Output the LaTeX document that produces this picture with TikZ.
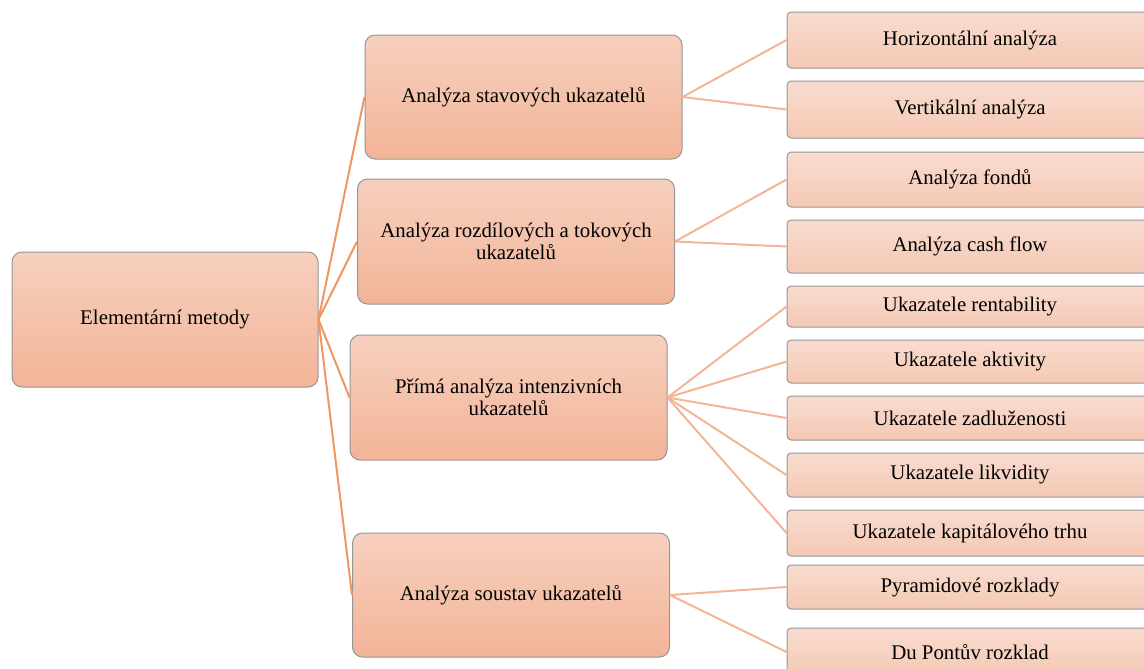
\documentclass[tikz,border=0pt]{standalone}
\usepackage{fontspec}
\setmainfont{Liberation Serif}
\usetikzlibrary{positioning}
\definecolor{linkdark}{RGB}{240,150,96}
\definecolor{linklight}{RGB}{244,180,150}
\definecolor{midtop}{RGB}{246,208,190}
\definecolor{midbot}{RGB}{243,180,152}
\definecolor{leaftop}{RGB}{248,220,207}
\definecolor{leafbot}{RGB}{245,200,180}
\definecolor{boxline}{RGB}{150,150,150}
\tikzset{
% big boxes on the left and in the middle
mainbox/.style={draw=boxline, line width=0.6pt, rounded corners=6pt,
  top color=midtop, bottom color=midbot, align=center, inner sep=0pt,
  minimum width=190.2pt, minimum height=74.4pt,
  font=\fontsize{12.5}{13.6}\selectfont},
% thin boxes on the right
leafbox/.style={draw=boxline, line width=0.6pt, rounded corners=2.5pt,
  top color=leaftop, bottom color=leafbot, align=center, inner sep=0pt,
  minimum width=219.6pt, font=\fontsize{12.5}{13.6}\selectfont},
rootlink/.style={draw=linkdark, line width=1.2pt},
leaflink/.style={draw=linklight, line width=1.2pt},
}

\begin{document}
\begin{tikzpicture}[x=0.6pt,y=-0.6pt]
   \useasboundingbox (0,0) rectangle (1144,668);
   \clip (0,0) rectangle (1144,668);
   \node[mainbox, minimum width=183.6pt, minimum height=81pt] (em) at (165,319.5) {Elementární metody};
   \node[mainbox] (stav) at (523.5,97) {Analýza stavových ukazatelů};
   \node[mainbox, minimum height=75pt] (rozd) at (516,241.5) {Analýza rozdílových a tokových\\ukazatelů};
   \node[mainbox, minimum height=75pt] (prim) at (508.5,397.5) {Přímá analýza intenzivních\\ukazatelů};
   \node[mainbox] (sous) at (511,595) {Analýza soustav ukazatelů};
   % leaves
   \node[leafbox, minimum height=33.6pt] (hor) at (970,40) {Horizontální analýza};
   \node[leafbox, minimum height=34.2pt] (ver) at (970,109.5) {Vertikální analýza};
   \node[leafbox, minimum height=33pt] (fon) at (970,179.5) {Analýza fondů};
   \node[leafbox, minimum height=31.8pt] (cf) at (970,246.5) {Analýza cash flow};
   \node[leafbox, minimum height=24.6pt] (ren) at (970,306.5) {Ukazatele rentability};
   \node[leafbox, minimum height=25.8pt] (akt) at (970,361.5) {Ukazatele aktivity};
   \node[leafbox, minimum height=26.4pt] (zad) at (970,418) {Ukazatele zadluženosti};
   \node[leafbox, minimum height=26.4pt] (lik) at (970,475) {Ukazatele likvidity};
   \node[leafbox, minimum height=27.6pt] (kap) at (970,533) {Ukazatele kapitálového trhu};
   \node[leafbox, minimum height=26.4pt] (pyr) at (970,587) {Pyramidové rozklady};
   \node[leafbox, minimum height=28.8pt] (dup) at (970,652) {Du Pontův rozklad};
   \path[rootlink]
    (em.east) edge (stav.west)
    (em.east) edge (rozd.west)
    (em.east) edge (prim.west)
    (em.east) edge (sous.west);
   \path[leaflink]
    (stav.east) edge (hor.west)
    (stav.east) edge (ver.west)
    (rozd.east) edge (fon.west)
    (rozd.east) edge (cf.west)
    (prim.east) edge (ren.west)
    (prim.east) edge (akt.west)
    (prim.east) edge (zad.west)
    (prim.east) edge (lik.west)
    (prim.east) edge (kap.west)
    (sous.east) edge (pyr.west)
    (sous.east) edge (dup.west);
\end{tikzpicture}
\end{document}
